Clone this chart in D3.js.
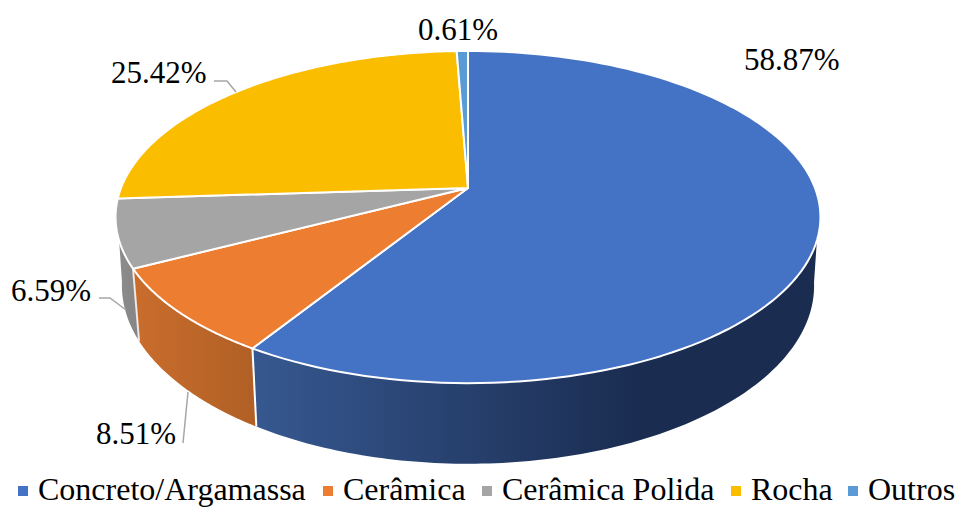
<!DOCTYPE html>
<html>
<head>
<meta charset="utf-8">
<script src="https://cdn.jsdelivr.net/npm/d3@7"></script>
<style>
  html, body { margin: 0; padding: 0; background: #fff; }
  svg { display: block; }
  text { font-family: "Liberation Serif", serif; fill: #000; }
</style>
</head>
<body>
<div id="chart"></div>
<script>
// Data
const categories = ["Concreto/Argamassa", "Cerâmica", "Cerâmica Polida", "Rocha", "Outros"];
const shares = [58.87, 8.51, 6.59, 25.42, 0.61];
const colors = ["#4472c4", "#ed7d31", "#a5a5a5", "#fbbd00", "#5b9bd5"];

const width = 956, height = 507;

// 3D look: the pie disc is a circle seen in perspective
const cx = 468, cy = 188;
const rx = 347, ry = 161, tilt = 0.175;
const depth = 66.5, shrink = 0.982;
const rad = d3.scaleLinear().domain([0, 360]).range([0, 2 * Math.PI]);

const topPoint = t => {
  const w = 1 + tilt * Math.cos(t);
  return [cx + rx * Math.sin(t) / w, cy - ry * Math.cos(t) / w];
};
const bottomPoint = t => {
  const w = 1 + tilt * Math.cos(t);
  return [cx + shrink * rx * Math.sin(t) / w, cy + (depth - ry * Math.cos(t)) / w];
};
const arcAngles = (a0, a1) => d3.range(0, 121).map(i => a0 + (a1 - a0) * i / 120);

const svg = d3.select("#chart").append("svg")
  .attr("width", width)
  .attr("height", height);

const defs = svg.append("defs");

// side wall shading, dark to the right like the Excel one
const wallStops = [
  [["0%", "#365890"], ["100%", "#1a2c50"]],
  [["0%", "#c96d2d"], ["100%", "#b05f25"]],
  [["0%", "#8c8c8c"], ["100%", "#858585"]]
];
const wallRange = [[255, 640], [135, 258], [116, 140]];
wallStops.forEach((stops, i) => {
  const g = defs.append("linearGradient")
    .attr("id", "wall" + i)
    .attr("gradientUnits", "userSpaceOnUse")
    .attr("x1", wallRange[i][0]).attr("x2", wallRange[i][1])
    .attr("y1", 0).attr("y2", 0);
  stops.forEach(s => g.append("stop").attr("offset", s[0]).attr("stop-color", s[1]));
});

const slices = d3.pie().sort(null).value(d => d)(shares);
const line = d3.line();

// where the wall leaves the rim, on the right and on the left (top and bottom disc differ)
const rightTop = rad(108), rightBottom = rad(99);
const leftTop = rad(252), leftBottom = rad(261);

// walls first, only the slices facing us
const walls = svg.append("g");
slices.slice(0, 3).forEach((s, i) => {
  const upper = arcAngles(Math.max(s.startAngle, i == 0 ? rightTop : 0), i == 2 ? leftTop : s.endAngle);
  const lower = arcAngles(Math.max(s.startAngle, i == 0 ? rightBottom : 0), i == 2 ? leftBottom : s.endAngle);
  const pts = upper.map(topPoint).concat(lower.reverse().map(bottomPoint));
  walls.append("path")
    .attr("d", line(pts) + "Z")
    .attr("fill", `url(#wall${i})`);
});

// white seam between the walls
[slices[0].endAngle, slices[1].endAngle].forEach((a, i) => {
  walls.append("path")
    .attr("d", line([topPoint(a), bottomPoint(a)]))
    .attr("stroke", "#fff")
    .attr("stroke-opacity", i == 0 ? 1 : 0.8)
    .attr("stroke-width", 2)
    .attr("fill", "none");
});

// top of the disc
svg.append("g").selectAll("path")
  .data(slices)
  .join("path")
    .attr("d", d => line([[cx, cy]].concat(arcAngles(d.startAngle, d.endAngle).map(topPoint))) + "Z")
    .attr("fill", (d, i) => colors[i])
    .attr("stroke", "#fff")
    .attr("stroke-width", 2)
    .attr("stroke-linejoin", "round");

// leader lines
const leaders = [
  [[183, 443], [188, 392]],
  [[99, 298], [110, 298], [126, 310]],
  [[214, 81], [227, 81], [236, 92]]
];
svg.append("g").selectAll("path")
  .data(leaders)
  .join("path")
    .attr("d", d => line(d))
    .attr("fill", "none")
    .attr("stroke", "#a6a6a6")
    .attr("stroke-width", 1.5);

// value labels
const labelPos = [[744, 70], [96, 444], [11, 301], [111, 83], [418, 40]];
svg.append("g").selectAll("text")
  .data(shares)
  .join("text")
    .attr("x", (d, i) => labelPos[i][0])
    .attr("y", (d, i) => labelPos[i][1])
    .attr("font-size", 31)
    .text(d => d.toFixed(2) + "%");

// legend
const legendX = [18, 323, 482, 731, 848];
const legend = svg.append("g").selectAll("g")
  .data(categories)
  .join("g")
    .attr("transform", (d, i) => `translate(${legendX[i]},0)`);
legend.append("rect")
  .attr("y", 486)
  .attr("width", 10)
  .attr("height", 10)
  .attr("fill", (d, i) => colors[i]);
legend.append("text")
  .attr("x", 20)
  .attr("y", 500)
  .attr("font-size", 32)
  .text(d => d);
</script>
</body>
</html>
